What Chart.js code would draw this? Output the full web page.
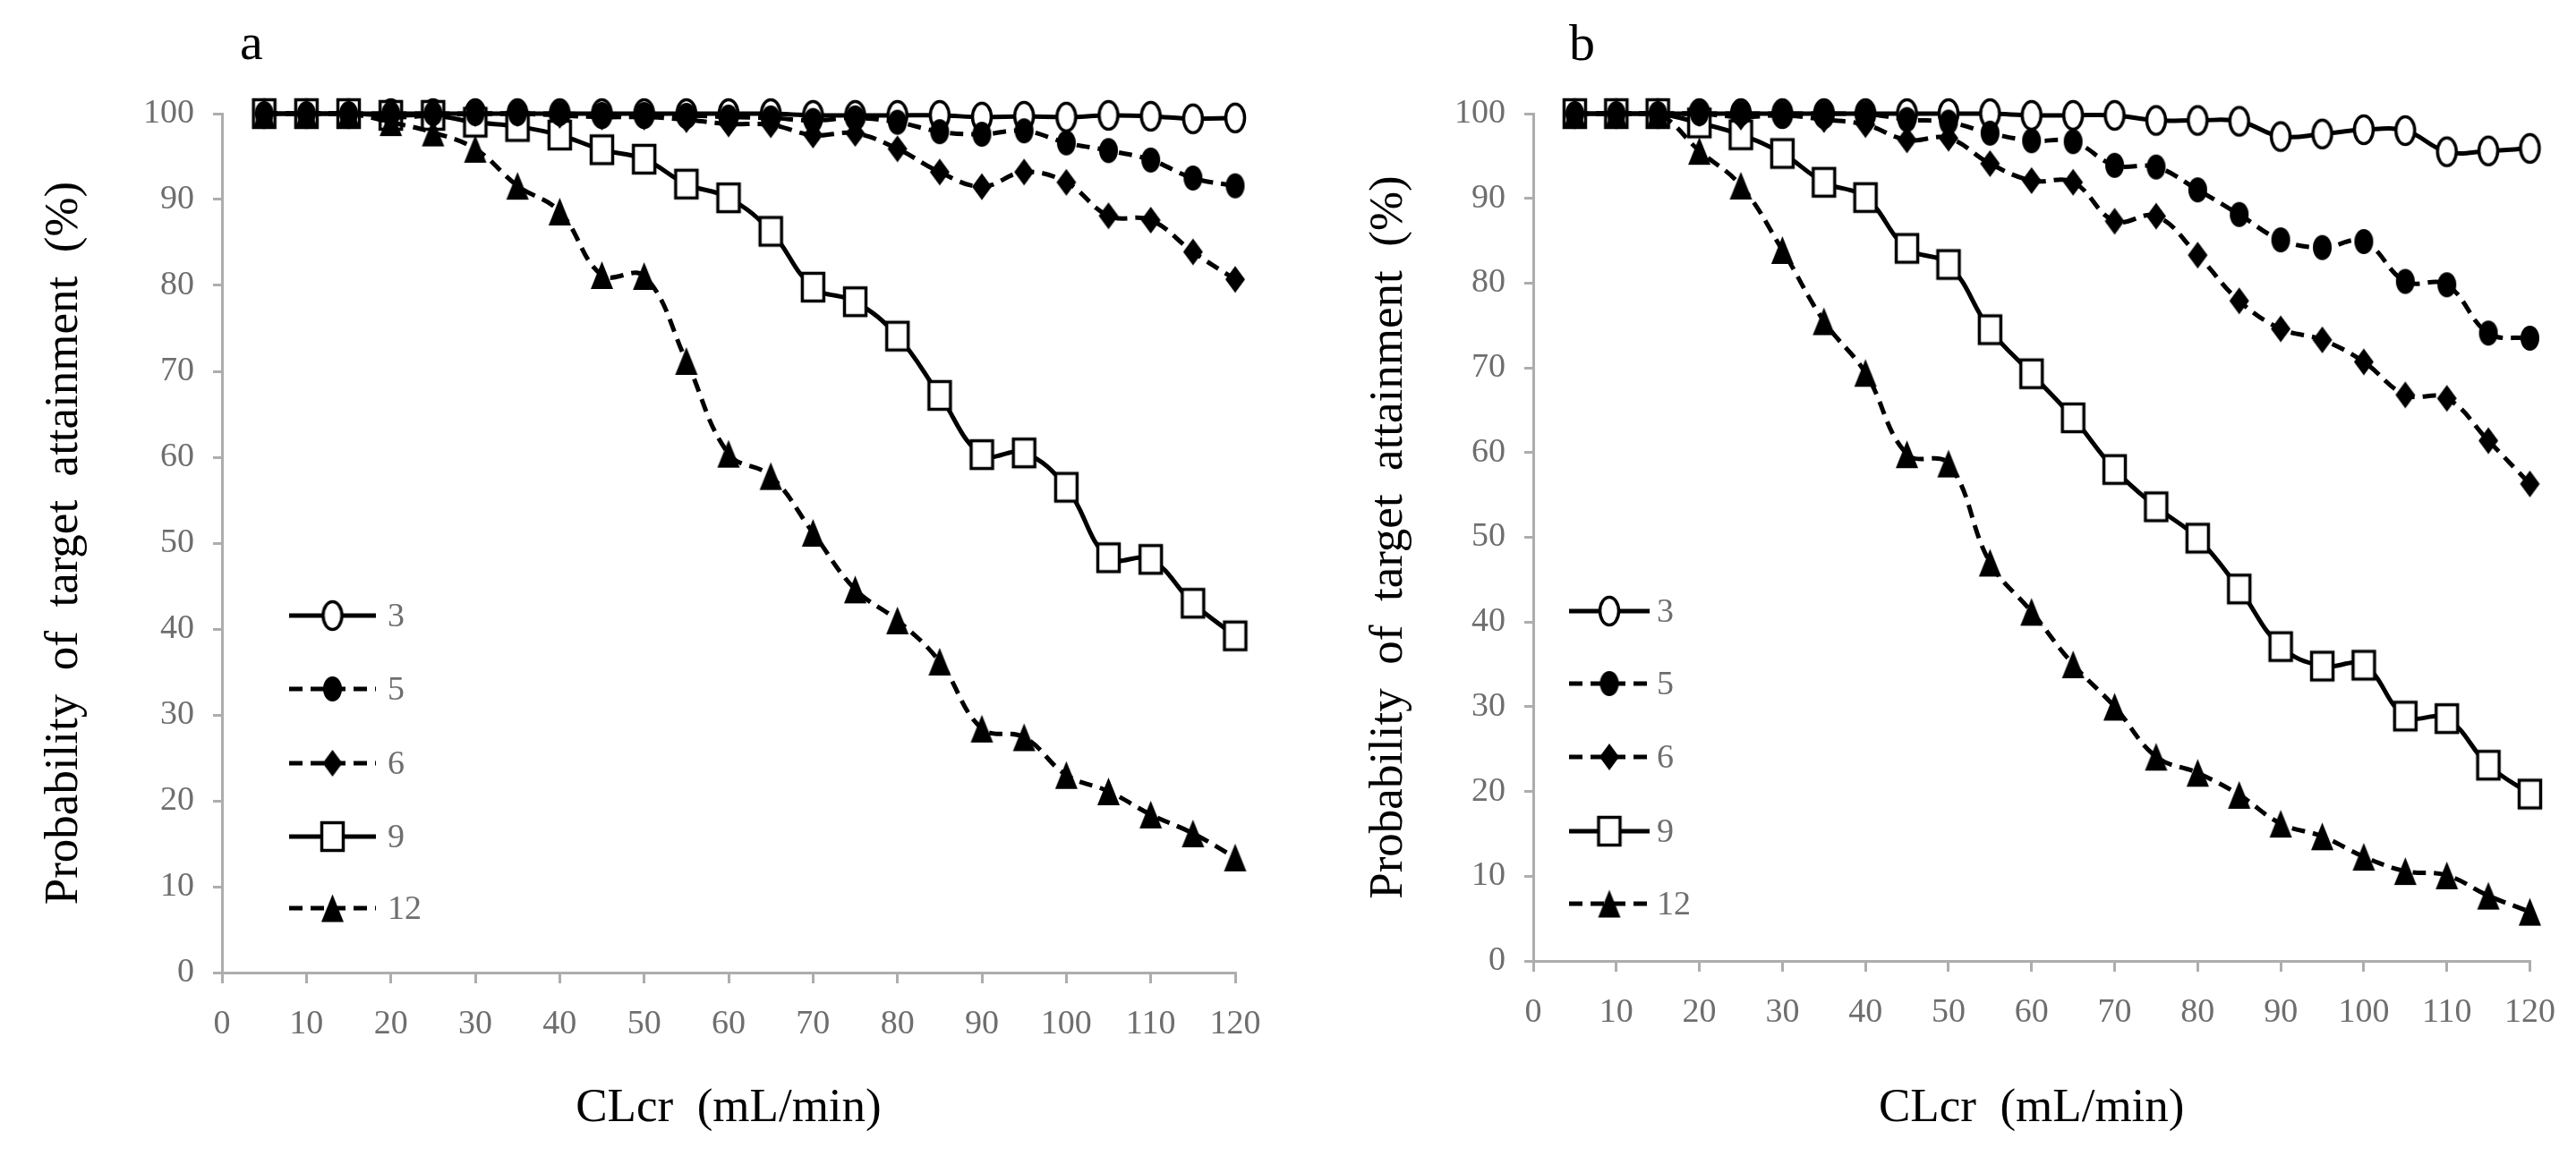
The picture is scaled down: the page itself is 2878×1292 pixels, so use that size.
<!DOCTYPE html>
<html>
<head>
<meta charset="utf-8">
<title>Probability of target attainment vs CLcr</title>
<script src="https://cdn.jsdelivr.net/npm/chart.js@4.4.1/dist/chart.umd.min.js"></script>
<style>
  html, body { margin: 0; padding: 0; background: #fff; overflow: hidden; }
  #wrap { display: flex; width: 2878px; height: 1292px; }
  .panel { position: relative; width: 1439px; height: 1292px; }
</style>
</head>
<body>
<div id="wrap">
  <div class="panel"><canvas id="chartA"></canvas></div>
  <div class="panel"><canvas id="chartB"></canvas></div>
</div>
<script>
// CLcr values (mL/min) where the points sit
const clcr = [5, 10, 15, 20, 25, 30, 35, 40, 45, 50, 55, 60, 65, 70, 75, 80, 85, 90, 95, 100, 105, 110, 115, 120];
const seriesLabels = ['3', '5', '6', '9', '12'];

// panel a
const a3  = [100, 100, 100, 100, 100, 100, 100, 100, 100, 100, 100, 100, 100, 99.8, 99.8, 99.8, 99.8, 99.6, 99.7, 99.6, 99.8, 99.7, 99.4, 99.5];
const a5  = [100, 100, 100, 100, 100, 100, 100, 100, 99.9, 99.9, 99.8, 99.6, 99.5, 99.2, 99.5, 99.0, 97.9, 97.6, 98.0, 96.6, 95.7, 94.6, 92.5, 91.6];
const a6  = [100, 100, 100, 99.6, 99.8, 100, 100, 99.8, 99.6, 99.6, 99.3, 98.8, 98.7, 97.5, 97.7, 95.9, 93.2, 91.5, 93.2, 92.0, 88.1, 87.6, 83.9, 80.7];
const a9  = [100, 100, 100, 99.8, 99.8, 99.0, 98.5, 97.5, 95.8, 94.7, 91.8, 90.2, 86.3, 79.8, 78.1, 74.1, 67.2, 60.3, 60.5, 56.5, 48.3, 48.1, 43.0, 39.2];
const a12 = [100, 100, 100, 99.0, 97.8, 95.9, 91.6, 88.6, 81.2, 81.1, 71.2, 60.4, 57.8, 51.2, 44.6, 41.0, 36.2, 28.4, 27.4, 23.0, 21.1, 18.4, 16.2, 13.4];

// panel b
const b3  = [100, 100, 100, 100, 100, 100, 100, 100, 100, 100, 100, 99.8, 99.8, 99.8, 99.2, 99.2, 99.1, 97.3, 97.6, 98.1, 98.0, 95.5, 95.6, 95.9];
const b5  = [100, 100, 100, 100, 100, 100, 100, 100, 99.3, 99.0, 97.7, 96.8, 96.7, 93.9, 93.7, 91.0, 88.1, 85.1, 84.2, 84.9, 80.2, 79.8, 74.1, 73.5];
const b6  = [100, 100, 100, 100, 99.6, 99.8, 99.3, 98.7, 96.9, 97.1, 94.1, 92.1, 91.9, 87.3, 87.9, 83.3, 77.9, 74.6, 73.3, 70.7, 66.8, 66.4, 61.4, 56.3];
const b9  = [100, 100, 100, 98.9, 97.5, 95.3, 91.9, 90.1, 84.1, 82.2, 74.5, 69.3, 64.1, 58.0, 53.6, 49.9, 43.9, 37.1, 34.8, 34.9, 28.9, 28.6, 23.1, 19.7];
const b12 = [100, 100, 100, 95.6, 91.5, 83.9, 75.5, 69.4, 59.8, 58.7, 47.0, 41.2, 35.0, 30.0, 24.1, 22.2, 19.6, 16.2, 14.7, 12.3, 10.6, 10.1, 7.7, 5.8];

const xTicks = { min: 0, max: 120, step: 10 };
const yTicks = { min: 0, max: 100, step: 10 };

const SERIF = "'Liberation Serif', 'Times New Roman', serif";
const TICK_GRAY = '#6e6e6e';
const AXIS_GRAY = '#adadad';

Chart.defaults.font.family = SERIF;

// the original markers are a bit taller than wide, so draw them as small images
function marker(shape, w, h, open) {
  const c = document.createElement('canvas');
  c.width = w + 4;
  c.height = h + 4;
  const g = c.getContext('2d');
  const cx = c.width / 2, cy = c.height / 2;
  const rx = open ? w / 2 - 1.5 : w / 2;
  const ry = open ? h / 2 - 1.5 : h / 2;
  g.beginPath();
  if (shape === 'circle') {
    g.ellipse(cx, cy, rx, ry, 0, 0, Math.PI * 2);
  } else if (shape === 'square') {
    g.rect(cx - rx, cy - ry, rx * 2, ry * 2);
  } else if (shape === 'diamond') {
    g.moveTo(cx, cy - ry); g.lineTo(cx + rx, cy); g.lineTo(cx, cy + ry); g.lineTo(cx - rx, cy);
    g.closePath();
  } else {
    g.moveTo(cx, cy - ry); g.lineTo(cx + rx, cy + ry); g.lineTo(cx - rx, cy + ry);
    g.closePath();
  }
  if (open) {
    g.fillStyle = '#fff';
    g.fill();
    g.lineWidth = 3.5;
    g.strokeStyle = '#000';
    g.stroke();
  } else {
    g.fillStyle = '#000';
    g.fill();
  }
  return c;
}

const markers = [
  marker('circle', 24, 34, true),
  marker('circle', 21, 28, false),
  marker('diamond', 22, 30, false),
  marker('square', 27, 34, true),
  marker('triangle', 25, 31, false)
];
const dashed = [false, true, true, false, true];
// draw order: open symbols underneath, filled ones on top
const drawOrder = [4, 2, 1, 3, 0];

function makeDatasets(values) {
  return values.map((vals, i) => ({
    label: seriesLabels[i],
    data: clcr.map((x, j) => ({ x: x, y: vals[j] })),
    borderColor: '#000',
    backgroundColor: '#000',
    borderWidth: 5,
    borderDash: dashed[i] ? [15, 9] : [],
    pointStyle: markers[i],
    pointRadius: 16,
    pointHoverRadius: 16,
    tension: 0.4,
    fill: false,
    clip: false,
    order: drawOrder[i]
  }));
}

// panel letter and the small legend at lower left
const panelDecor = {
  id: 'panelDecor',
  afterDraw(chart, args, opts) {
    const { ctx, chartArea } = chart;
    ctx.save();
    ctx.fillStyle = '#000';
    ctx.font = '58px ' + SERIF;
    ctx.textAlign = 'left';
    ctx.textBaseline = 'alphabetic';
    ctx.fillText(opts.letter, chartArea.left + opts.letterDx, opts.letterY);

    chart.data.datasets.forEach((ds, i) => {
      const y = chartArea.bottom - opts.rows[i];
      const x0 = chartArea.left + opts.lineFrom;
      const x1 = chartArea.left + opts.lineTo;
      ctx.strokeStyle = '#000';
      ctx.lineWidth = ds.borderWidth;
      ctx.setLineDash(ds.borderDash);
      ctx.beginPath();
      ctx.moveTo(x0, y);
      ctx.lineTo(x1, y);
      ctx.stroke();
      ctx.setLineDash([]);
      const m = ds.pointStyle;
      ctx.drawImage(m, (x0 + x1) / 2 - m.width / 2, y - m.height / 2);
      ctx.fillStyle = TICK_GRAY;
      ctx.font = '38px ' + SERIF;
      ctx.textBaseline = 'middle';
      ctx.fillText(ds.label, chartArea.left + opts.textAt, y + 2);
    });
    ctx.restore();
  }
};

function makePanel(id, values, g) {
  return new Chart(document.getElementById(id), {
    type: 'line',
    data: { datasets: makeDatasets(values) },
    plugins: [panelDecor],
    options: {
      responsive: true,
      maintainAspectRatio: false,
      animation: false,
      events: [],
      layout: { padding: { top: 127, right: g.rightPad, bottom: 0, left: 0 } },
      plugins: {
        legend: { display: false },
        tooltip: { enabled: false },
        panelDecor: g.decor
      },
      scales: {
        x: {
          type: 'linear',
          min: xTicks.min,
          max: xTicks.max,
          ticks: {
            stepSize: xTicks.step,
            color: TICK_GRAY,
            font: { size: 38 },
            padding: 23,
            maxRotation: 0,
            autoSkip: false
          },
          grid: { drawOnChartArea: false, drawTicks: true, tickLength: 12, color: AXIS_GRAY, lineWidth: 3 },
          border: { color: AXIS_GRAY, width: 3 },
          title: {
            display: true,
            text: 'CLcr  (mL/min)',
            color: '#000',
            font: { size: 53 },
            padding: { top: 0, bottom: 21 }
          },
          afterFit(scale) { scale.height = g.xH; }
        },
        y: {
          min: yTicks.min,
          max: yTicks.max,
          ticks: {
            stepSize: yTicks.step,
            color: TICK_GRAY,
            font: { size: 38 },
            padding: 21
          },
          grid: { drawOnChartArea: false, drawTicks: true, tickLength: 10, color: AXIS_GRAY, lineWidth: 3 },
          border: { color: AXIS_GRAY, width: 3 },
          title: {
            display: true,
            text: 'Probability  of  target  attainment  (%)',
            color: '#000',
            font: { size: 53 },
            padding: { top: g.yTitlePad, bottom: 0 }
          },
          afterFit(scale) { scale.width = g.yW; }
        }
      }
    }
  });
}

makePanel('chartA', [a3, a5, a6, a9, a12], {
  yW: 248, xH: 205, rightPad: 59, yTitlePad: 40,
  decor: { letter: 'a', letterDx: 20, letterY: 66, rows: [399, 317, 234, 152, 72], lineFrom: 75, lineTo: 172, textAt: 185 }
});

makePanel('chartB', [b3, b5, b6, b9, b12], {
  yW: 274, xH: 218, rightPad: 49, yTitlePad: 81,
  decor: { letter: 'b', letterDx: 40, letterY: 67, rows: [391, 310, 228, 145, 64], lineFrom: 40, lineTo: 130, textAt: 138 }
});
</script>
</body>
</html>
